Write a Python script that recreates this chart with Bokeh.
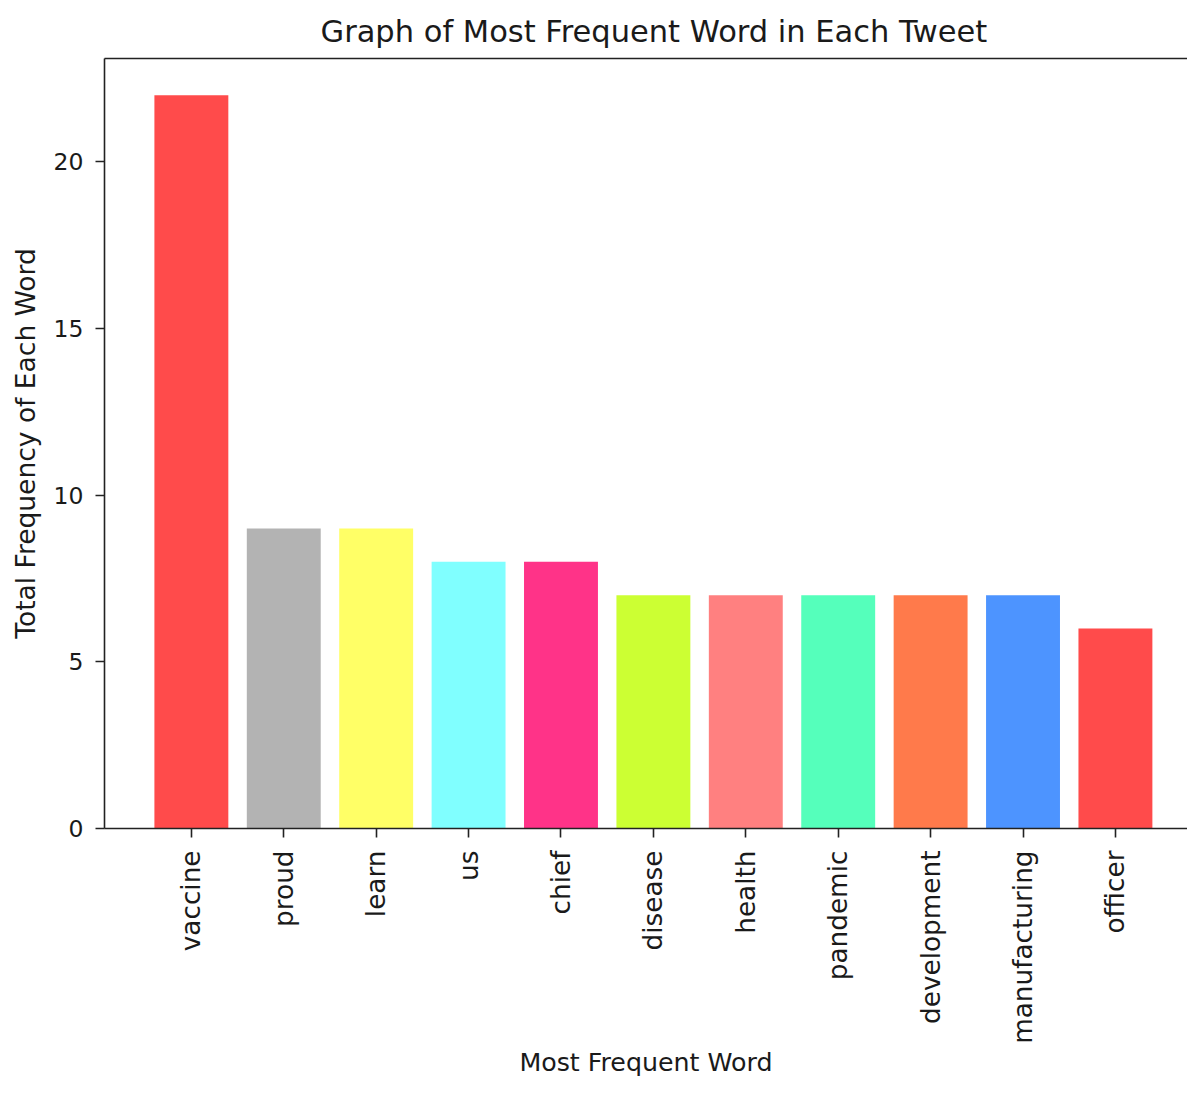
import math
from bokeh.plotting import figure
from bokeh.models import ColumnDataSource, Range1d, FixedTicker, LinearAxis
from bokeh.embed import file_html
from bokeh.resources import INLINE

words = ["vaccine", "proud", "learn", "us", "chief", "disease", "health",
         "pandemic", "development", "manufacturing", "officer"]
counts = [22, 9, 9, 8, 8, 7, 7, 7, 7, 7, 6]
colors = ["#FF4B4B", "#B3B3B3", "#FFFF66", "#80FFFF", "#FF3388", "#CCFF33",
          "#FF8080", "#55FFBB", "#FF7A4B", "#4D94FF", "#FF4B4B"]
y_ticks = [0, 5, 10, 15, 20]

positions = list(range(len(words)))
src = ColumnDataSource(dict(x=positions, top=counts, color=colors, word=words))

FONT = "DejaVu Sans"
TXT = "#1a1a1a"
LINE = "#222222"

p = figure(width=1187, height=1087, output_backend="svg", toolbar_location=None,
           x_range=Range1d(-0.94, 10.78), y_range=Range1d(0, 23.1),
           min_border_left=104, min_border_right=0, min_border_top=58,
           min_border_bottom=259, title="Graph of Most Frequent Word in Each Tweet")

p.vbar(x="x", top="top", bottom=0, width=0.8, fill_color="color",
       line_color=None, source=src)

p.outline_line_color = None
p.xgrid.grid_line_color = None
p.ygrid.grid_line_color = None
p.background_fill_color = "white"
p.border_fill_color = "white"

p.title.text_font = FONT
p.title.text_font_size = "30.5px"
p.title.text_font_style = "normal"
p.title.text_color = TXT
p.title.align = "left"
p.title.offset = 216
p.title.standoff = 20

for ax in (p.xaxis[0], p.yaxis[0]):
    ax.axis_line_width = 1.6
    ax.axis_line_color = LINE
    ax.major_tick_line_width = 1.6
    ax.major_tick_line_color = LINE
    ax.major_tick_out = 9
    ax.major_tick_in = 0
    ax.minor_tick_line_color = None
    ax.major_label_text_font = FONT
    ax.major_label_text_color = TXT
    ax.axis_label_text_font = FONT
    ax.axis_label_text_font_style = "normal"
    ax.axis_label_text_color = TXT

p.xaxis[0].ticker = FixedTicker(ticks=positions)
p.xaxis[0].major_label_overrides = {i: w for i, w in zip(positions, words)}
p.xaxis[0].major_label_orientation = math.pi / 2
p.xaxis[0].major_label_text_font_size = "26.3px"
p.xaxis[0].major_label_standoff = 13
p.xaxis[0].axis_label = "Most Frequent Word"
p.xaxis[0].axis_label_text_font_size = "25.3px"
p.xaxis[0].axis_label_standoff = 1

p.yaxis[0].ticker = FixedTicker(ticks=y_ticks)
p.yaxis[0].major_label_text_font_size = "23.5px"
p.yaxis[0].major_label_standoff = 12
p.yaxis[0].axis_label = "Total Frequency of Each Word"
p.yaxis[0].axis_label_text_font_size = "26.5px"
p.yaxis[0].axis_label_standoff = 10

top = LinearAxis(ticker=FixedTicker(ticks=[]), axis_line_width=1.6,
                 axis_line_color=LINE, major_tick_line_color=None,
                 minor_tick_line_color=None, major_label_text_font_size="0px",
                 major_label_standoff=0, major_tick_out=0, major_tick_in=0)
p.add_layout(top, "above")

open("out.html", "w").write(file_html(p, INLINE))
